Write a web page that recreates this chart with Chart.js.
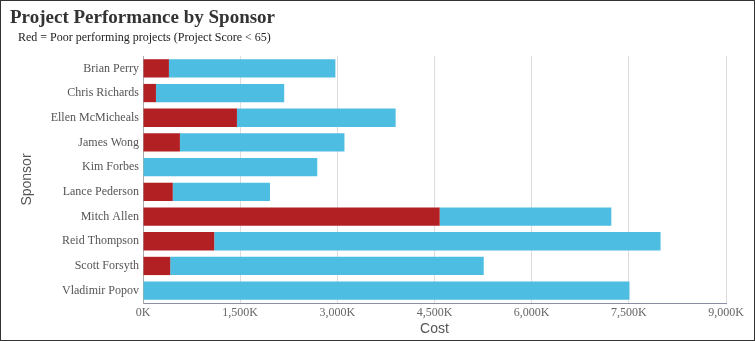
<!DOCTYPE html>
<html>
<head>
<meta charset="utf-8">
<script src="https://cdn.jsdelivr.net/npm/chart.js@4"></script>
<style>
  body { margin: 0; background: #fff; }
  #box { position: relative; width: 753px; height: 339px; border: 1px solid #333; }
  #title { position: absolute; left: 9px; top: 5px; font: bold 19px "Liberation Serif", serif; color: #333; }
  #subtitle { position: absolute; left: 17px; top: 29px; font: 12px "Liberation Serif", serif; color: #222; }
  canvas { position: absolute; left: 0; top: 0; }
</style>
</head>
<body>
<div id="box">
  <canvas id="chart" width="753" height="339"></canvas>
  <div id="title">Project Performance by Sponsor</div>
  <div id="subtitle">Red = Poor performing projects (Project Score &lt; 65)</div>
</div>
<script>
// sponsors and cost (in K)
var sponsors = ['Brian Perry', 'Chris Richards', 'Ellen McMicheals', 'James Wong', 'Kim Forbes',
  'Lance Pederson', 'Mitch Allen', 'Reid Thompson', 'Scott Forsyth', 'Vladimir Popov'];
var poorCost = [400, 200, 1450, 570, 0, 460, 4580, 1100, 420, 0];
var otherCost = [2570, 1980, 2450, 2540, 2690, 1500, 2650, 6890, 4840, 7510];
var xTicks = [0, 1500, 3000, 4500, 6000, 7500, 9000];

var serif = '"Liberation Serif", serif';
var sans = '"Liberation Sans", Arial, sans-serif';

var ctx = document.getElementById('chart').getContext('2d');
var chart = new Chart(ctx, {
  type: 'bar',
  data: {
    labels: sponsors,
    datasets: [{
      label: 'Poor',
      data: poorCost,
      backgroundColor: '#b22024',
      categoryPercentage: 0.74,
      barPercentage: 1
    }, {
      label: 'Other',
      data: otherCost,
      backgroundColor: '#4ebde2',
      categoryPercentage: 0.74,
      barPercentage: 1
    }]
  },
  options: {
    indexAxis: 'y',
    responsive: false,
    animation: false,
    layout: { padding: { top: 55, right: 28, left: 0, bottom: 0 } },
    plugins: { legend: { display: false }, tooltip: { enabled: false } },
    scales: {
      x: {
        stacked: true,
        min: 0,
        max: 9000,
        afterBuildTicks: function(s) { s.ticks = xTicks.map(function(v) { return { value: v }; }); },
        ticks: {
          font: { family: serif, size: 12 },
          color: '#666',
          padding: 3,
          maxRotation: 0,
          callback: function(v) { return v.toLocaleString('en-US') + 'K'; }
        },
        grid: { color: '#dddddd', drawTicks: false },
        border: { color: '#8a8fa3' },
        title: { display: true, text: 'Cost', font: { family: sans, size: 14 }, color: '#555', padding: { top: 0, bottom: 2 } },
        afterFit: function(s) { s.height = 37; }
      },
      y: {
        stacked: true,
        ticks: { font: { family: serif, size: 12 }, color: '#555', padding: 4 },
        grid: { display: false, drawTicks: false },
        border: { color: '#aaaaaa' },
        title: { display: true, text: 'Sponsor', font: { family: sans, size: 14 }, color: '#555', padding: { top: 18, bottom: 0 } },
        afterFit: function(s) { s.width = 142; }
      }
    }
  }
});
</script>
</body>
</html>
